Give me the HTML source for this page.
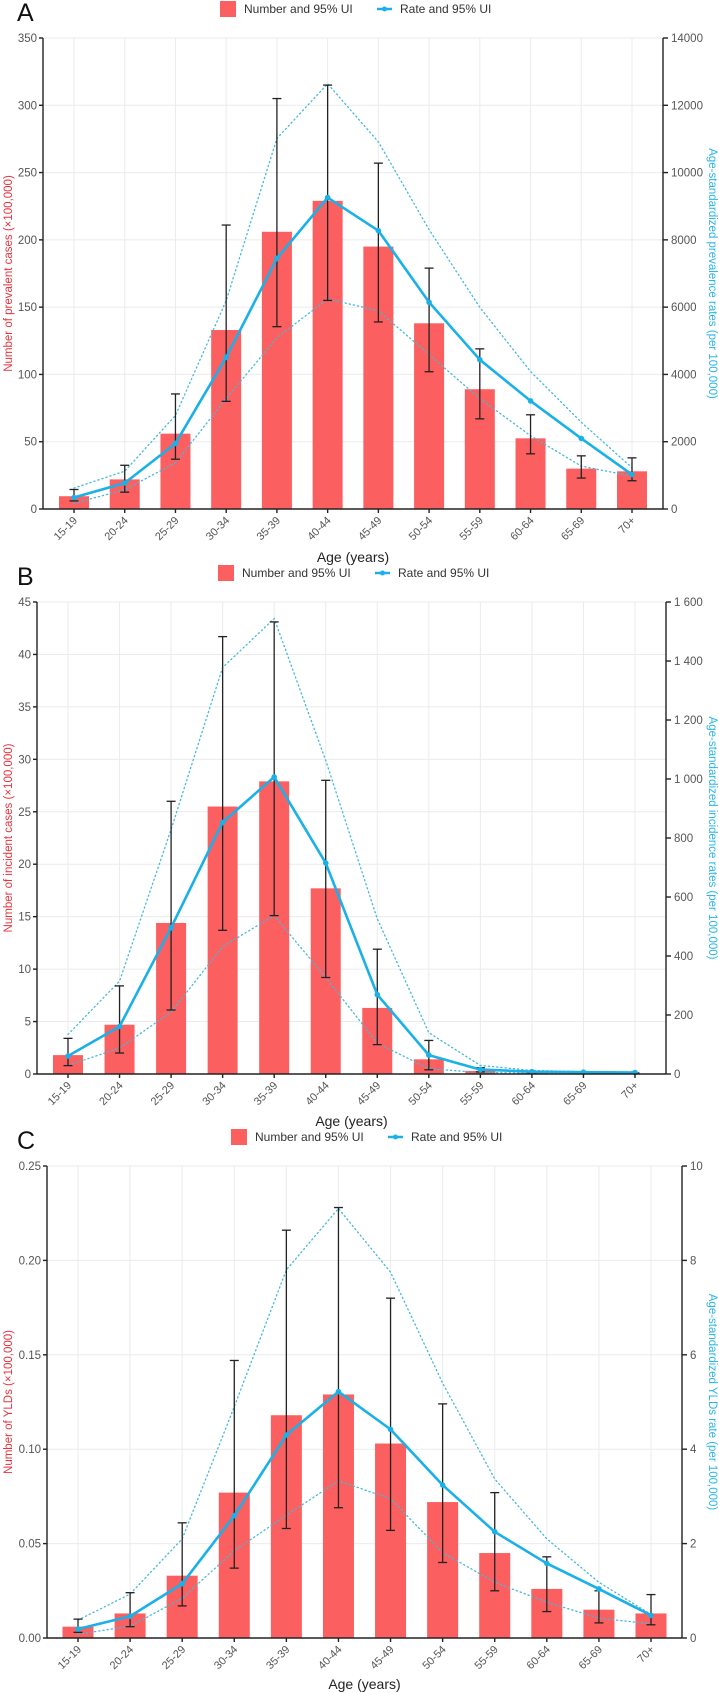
<!DOCTYPE html>
<html><head><meta charset="utf-8"><style>
html,body{margin:0;padding:0;background:#fff;}
svg{display:block;font-family:"Liberation Sans",sans-serif;}
</style></head><body>
<svg id="chart" width="719" height="1693" viewBox="0 0 719 1693"></svg>
<script>
const categories=["15-19","20-24","25-29","30-34","35-39","40-44","45-49","50-54","55-59","60-64","65-69","70+"];
// Panel A
const aNumber=[9.5,22,56,133,206,229,195,138,89,52.5,30,28];
const aNumLo=[6,12.5,37,80,135.5,155,139,102,67,41,23,21];
const aNumHi=[14.5,32.5,85.5,211,305,315,257,179,119,70,39.5,38];
const aRate=[341,773,1948,4508,7450,9257,8273,6145,4438,3213,2098,1024];
const aRateHi=[622,1124,2781,6195,11014,12640,10914,8303,5994,4086,2580,1225];
const aRateLo=[170,572,1375,3283,5090,6245,5893,4588,3283,2179,1275,974];
const aLeftTicks=[0,50,100,150,200,250,300,350];
const aRightTicks=[0,2000,4000,6000,8000,10000,12000,14000];
const aRightLabels=["0","2000","4000","6000","8000","10000","12000","14000"];
// Panel B
const bNumber=[1.8,4.7,14.4,25.5,27.9,17.7,6.3,1.4,0.3,0.1,0.05,0.05];
const bNumLo=[0.8,2,6.1,13.7,15.1,9.2,2.8,0.4,0.2,0.05,0.03,0.03];
const bNumHi=[3.4,8.4,26,41.7,43.1,28,11.9,3.2,0.6,0.15,0.1,0.1];
const bRate=[61,161,496,853,1007,715,269,64,15,8,6,5];
const bRateHi=[134,315,829,1378,1544,1063,526,140,29,12,8,7];
const bRateLo=[29,88,210,432,537,327,105,18,5,3,3,3];
const bLeftTicks=[0,5,10,15,20,25,30,35,40,45];
const bRightTicks=[0,200,400,600,800,1000,1200,1400,1600];
const bRightLabels=["0","200","400","600","800","1 000","1 200","1 400","1 600"];
// Panel C
const cNumber=[0.006,0.013,0.033,0.077,0.118,0.129,0.103,0.072,0.045,0.026,0.015,0.013];
const cNumLo=[0.003,0.006,0.017,0.037,0.058,0.069,0.057,0.040,0.025,0.014,0.008,0.007];
const cNumHi=[0.010,0.024,0.061,0.147,0.216,0.228,0.180,0.124,0.077,0.043,0.025,0.023];
const cRate=[0.19,0.46,1.15,2.59,4.3,5.22,4.42,3.24,2.25,1.58,1.04,0.48];
const cRateHi=[0.38,0.93,2.1,4.9,7.8,9.1,7.75,5.4,3.37,2.1,1.18,0.5];
const cRateLo=[0.08,0.25,0.84,1.85,2.6,3.33,2.95,1.81,1.18,0.76,0.42,0.3];
const cLeftTicks=[0,0.05,0.10,0.15,0.20,0.25];
const cLeftLabels=["0.00","0.05","0.10","0.15","0.20","0.25"];
const cRightTicks=[0,2,4,6,8,10];

const NS="http://www.w3.org/2000/svg";
const svg=document.getElementById('chart');
function mk(tag,attrs,parent,text){const e=document.createElementNS(NS,tag);for(const k in attrs)e.setAttribute(k,attrs[k]);if(text!==undefined)e.textContent=text;(parent||svg).appendChild(e);return e;}

function panel(o){
  const g=mk('g',{});
  
  
  const L=o.left,R=o.right,T=o.top,B=o.bottom,pad=31;
  const step=(R-L-2*pad)/(categories.length-1);
  const xs=i=>L+pad+i*step;
  const yl=v=>B-(v/o.lmax)*(B-T);
  const yr=v=>B-(v/o.rmax)*(B-T);
  const lt=mk('text',{x:17,y:o.ly+12,'font-size':25,fill:'#111'},g,o.letter);
  
  
  const lg=mk('g',{},g);
  
  
  const e1=mk('g',{},lg);
  
  
  mk('rect',{x:o.lgx,y:o.ly-8,width:16,height:16,fill:'#fb5f5f'},e1);
  mk('text',{x:o.lgx+24,y:o.ly+4,'font-size':12,fill:'#333'},e1,'Number and 95% UI');
  const e2=mk('g',{},lg);
  
  
  mk('line',{x1:o.lgx+157,x2:o.lgx+172,y1:o.ly,y2:o.ly,stroke:'#1ab0e8','stroke-width':2.5},e2);
  mk('circle',{cx:o.lgx+164.5,cy:o.ly,r:2.5,fill:'#1ab0e8'},e2);
  mk('text',{x:o.lgx+180,y:o.ly+4,'font-size':12,fill:'#333'},e2,'Rate and 95% UI');
  const grid=mk('g',{},g);
  
  
  o.lticks.forEach(v=>{if(v>0)mk('line',{x1:L,x2:R,y1:yl(v),y2:yl(v),stroke:'#ebebeb','stroke-width':1},grid);});
  categories.forEach((c,i)=>mk('line',{x1:xs(i),x2:xs(i),y1:T,y2:B,stroke:'#ebebeb','stroke-width':1},grid));
  const bw=o.bw;
  o.num.forEach((v,i)=>{
    const r=mk('rect',{x:xs(i)-bw/2,y:yl(v),width:bw,height:B-yl(v),fill:'#fb5f5f'},g);
    
    
  });
  [o.rhi,o.rlo].forEach((arr,k)=>{
    const p=mk('polyline',{points:arr.map((v,i)=>xs(i)+','+yr(v)).join(' '),fill:'none',stroke:'#45b8dc','stroke-width':1.3,'stroke-dasharray':'1.2,3','stroke-linecap':'round'},g);
    
    
  });
  o.num.forEach((v,i)=>{
    const eg=mk('g',{stroke:'#222','stroke-width':1.3},g);
    
    
    const x=xs(i),a=yl(o.lo[i]),b=yl(o.hi[i]);
    mk('line',{x1:x,x2:x,y1:a,y2:b},eg);
    mk('line',{x1:x-4.5,x2:x+4.5,y1:a,y2:a},eg);
    mk('line',{x1:x-4.5,x2:x+4.5,y1:b,y2:b},eg);
  });
  const rl=mk('polyline',{points:o.rate.map((v,i)=>xs(i)+','+yr(v)).join(' '),fill:'none',stroke:'#1ab0e8','stroke-width':2.6,'stroke-linejoin':'round'},g);
  
  
  o.rate.forEach((v,i)=>{
    const c=mk('circle',{cx:xs(i),cy:yr(v),r:2.8,fill:'#1ab0e8'},g);
    
    
  });
  const ax=mk('g',{stroke:'#222','stroke-width':1.4},g);
  
  
  mk('line',{x1:L,x2:L,y1:T,y2:B},ax);
  mk('line',{x1:R,x2:R,y1:T,y2:B},ax);
  mk('line',{x1:L,x2:R,y1:B,y2:B},ax);
  o.lticks.forEach((v,i)=>{
    mk('line',{x1:L-4,x2:L,y1:yl(v),y2:yl(v)},ax);
    mk('text',{x:L-6,y:yl(v)+4,'font-size':11.5,fill:'#555',stroke:'none','text-anchor':'end'},g,o.llabels?o.llabels[i]:String(v));
  });
  o.rticks.forEach((v,i)=>{
    mk('line',{x1:R,x2:R+5,y1:yr(v),y2:yr(v)},ax);
    mk('text',{x:R+8,y:yr(v)+4,'font-size':11.5,fill:'#555',stroke:'none'},g,o.rlabels?o.rlabels[i]:String(v));
  });
  categories.forEach((c,i)=>{
    mk('line',{x1:xs(i),x2:xs(i),y1:B,y2:B+4},ax);
    const x=xs(i)+4,y=B+12;
    mk('text',{x:x,y:y,'font-size':11,fill:'#555','text-anchor':'end',transform:'rotate(-45 '+x+' '+y+')'},g,c);
  });
  const xt=mk('text',{x:(L+R)/2,y:o.xty,'font-size':14,fill:'#222','text-anchor':'middle'},g,'Age (years)');
  
  
  const mid=(T+B)/2;
  const ylt=mk('text',{x:0,y:0,'font-size':11.5,fill:'#e8343f','text-anchor':'middle',transform:'translate(12 '+mid+') rotate(-90)'},g,o.ltitle);
  
  
  const yrt=mk('text',{x:0,y:0,'font-size':11.5,fill:'#29b6e6','text-anchor':'middle',transform:'translate(709 '+mid+') rotate(90)'},g,o.rtitle);
  
  
}
panel({letter:'A',ly:9,lgx:220,left:43,right:663,top:38,bottom:509,bw:30,lmax:350,rmax:14000,
  num:aNumber,lo:aNumLo,hi:aNumHi,rate:aRate,rhi:aRateHi,rlo:aRateLo,lticks:aLeftTicks,rticks:aRightTicks,rlabels:aRightLabels,
  xty:562,ltitle:'Number of prevalent cases (×100,000)',rtitle:'Age-standardized prevalence rates (per 100,000)'});
panel({letter:'B',ly:573,lgx:218,left:37,right:666,top:602,bottom:1074,bw:30,lmax:45,rmax:1600,
  num:bNumber,lo:bNumLo,hi:bNumHi,rate:bRate,rhi:bRateHi,rlo:bRateLo,lticks:bLeftTicks,rticks:bRightTicks,rlabels:bRightLabels,
  xty:1126,ltitle:'Number of incident cases (×100,000)',rtitle:'Age-standardized incidence rates (per 100,000)'});
panel({letter:'C',ly:1137,lgx:231,left:47,right:682,top:1166,bottom:1638,bw:31,lmax:0.25,rmax:10,
  num:cNumber,lo:cNumLo,hi:cNumHi,rate:cRate,rhi:cRateHi,rlo:cRateLo,lticks:cLeftTicks,llabels:cLeftLabels,rticks:cRightTicks,
  xty:1689,ltitle:'Number of YLDs (×100,000)',rtitle:'Age-standardized YLDs rate (per 100,000)'});
</script>
</body></html>
